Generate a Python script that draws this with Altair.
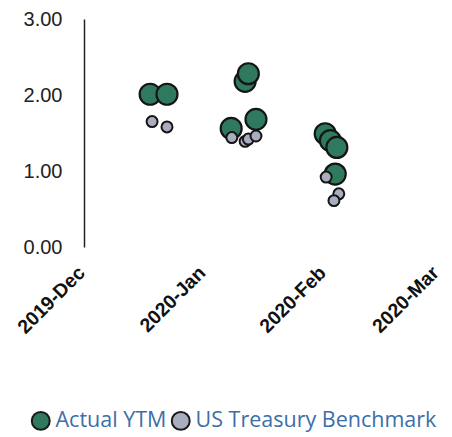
import altair as alt
import pandas as pd

# Actual YTM (green)
ytm_dates = ["2019-12-18T00:00:00Z", "2019-12-22T08:00:00Z",
             "2020-01-07T20:00:00Z", "2020-01-11T10:00:00Z", "2020-01-12T06:00:00Z", "2020-01-14T05:00:00Z",
             "2020-02-01T00:00:00Z", "2020-02-02T08:00:00Z", "2020-02-04T00:00:00Z", "2020-02-03T14:00:00Z"]
ytm_values = [2.01, 2.01, 1.56, 2.18, 2.28, 1.68, 1.49, 1.40, 1.31, 0.96]

# US Treasury Benchmark (gray)
ust_dates = ["2019-12-18T12:00:00Z", "2019-12-22T08:00:00Z",
             "2020-01-08T00:00:00Z", "2020-01-11T10:00:00Z", "2020-01-12T06:00:00Z", "2020-01-14T05:00:00Z",
             "2020-02-01T06:00:00Z", "2020-02-04T12:00:00Z", "2020-02-03T06:00:00Z"]
ust_values = [1.65, 1.58, 1.44, 1.39, 1.42, 1.46, 0.92, 0.70, 0.61]

series_names = ["Actual YTM", "US Treasury Benchmark"]
series_colors = ["#2f7a5e", "#a9adbd"]

ytm = pd.DataFrame({"date": ytm_dates, "value": ytm_values, "series": series_names[0]})
ust = pd.DataFrame({"date": ust_dates, "value": ust_values, "series": series_names[1]})

x_enc = alt.X(
    "date:T",
    scale=alt.Scale(type="utc",
                    domain=[alt.DateTime(year=2019, month=12, date=1, utc=True),
                            alt.DateTime(year=2020, month=3, date=1, utc=True)]),
    axis=alt.Axis(
        title=None, grid=False, domain=False, ticks=False,
        values=[alt.DateTime(year=2019, month=12, date=1, utc=True),
                alt.DateTime(year=2020, month=1, date=1, utc=True),
                alt.DateTime(year=2020, month=2, date=1, utc=True),
                alt.DateTime(year=2020, month=3, date=1, utc=True)],
        format="%Y-%b", labelAngle=-45, labelAlign="right", labelBaseline="top",
        labelFontSize=19.5, labelFontWeight="bold", labelFont="Liberation Sans",
        labelColor="#111111", labelPadding=16, labelOffset=-9, labelOverlap=False,
        labelBound=False, labelFlush=False,
    ),
)
y_enc = alt.Y(
    "value:Q",
    scale=alt.Scale(domain=[0, 3], nice=False),
    axis=alt.Axis(
        title=None, grid=False, ticks=False, values=[0, 1, 2, 3], format=".2f",
        domainColor="#222222", domainWidth=1.5, labelFontSize=20,
        labelFont="Liberation Sans", labelColor="#222222", labelPadding=22,
    ),
)
color_enc = alt.Color(
    "series:N",
    scale=alt.Scale(domain=series_names, range=series_colors),
    legend=alt.Legend(
        title=None, orient="none", direction="horizontal", legendX=-54, legendY=391,
        labelFontSize=21.5, labelFont="Open Sans", labelColor="#3c6ea8", labelLimit=400,
        symbolType="circle", symbolSize=320, symbolStrokeColor="#1a1a1a",
        symbolStrokeWidth=2, symbolOpacity=1,
        columnPadding=0, labelOffset=4,
    ),
)

green = alt.Chart(ytm).mark_circle(size=440, opacity=1, stroke="#151515", strokeWidth=2.2).encode(
    x=x_enc, y=y_enc, color=color_enc)
gray = alt.Chart(ust).mark_circle(size=120, opacity=1, stroke="#151515", strokeWidth=2).encode(
    x=x_enc, y=y_enc, color=color_enc)

chart = alt.layer(green, gray).properties(
    width=354, height=228,
    autosize=alt.AutoSizeParams(type="none"),
    padding={"left": 76, "top": 11, "right": 6, "bottom": 188},
    background="white",
).configure_view(stroke=None)

chart.save("out.html", embed_options={"renderer": "svg", "actions": False})
